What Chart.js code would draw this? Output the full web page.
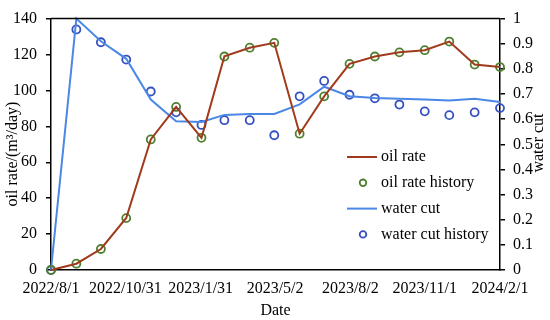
<!DOCTYPE html>
<html>
<head>
<meta charset="utf-8">
<script src="https://cdn.jsdelivr.net/npm/chart.js@4.4.0/dist/chart.umd.min.js"></script>
<style>
    html, body { margin: 0; padding: 0; background: #fff; }
    #wrap { width: 550px; height: 320px; }
</style>
</head>
<body>
<div id="wrap"><canvas id="chart" width="550" height="320"></canvas></div>
<script>
// Data (monthly points)
const dates = ['2022/8/1', '2022/9/1', '2022/10/1', '2022/11/1', '2022/12/1', '2023/1/1', '2023/2/1',
    '2023/3/1', '2023/4/1', '2023/5/1', '2023/6/1', '2023/7/1', '2023/8/1', '2023/9/1', '2023/10/1',
    '2023/11/1', '2023/12/1', '2024/1/1', '2024/2/1'];
const oilRate = [0, 3.5, 11.7, 29, 72.7, 90.8, 73.6, 119, 123.8, 126.5, 75.9, 96.7, 114.8, 118.9, 121.2, 122.4, 127.2, 114.4, 113];
const oilRateHistory = [0, 3.5, 11.7, 28.9, 72.7, 90.8, 73.6, 118.9, 123.8, 126.5, 75.9, 96.7, 114.8, 118.9, 121.2, 122.4, 127.2, 114.4, 113];
const waterCut = [0, 1.0, 0.91, 0.84, 0.678, 0.592, 0.589, 0.617, 0.621, 0.621, 0.659, 0.729, 0.691, 0.684, 0.681, 0.678, 0.674, 0.681, 0.668];
const waterCutHistory = [0, 0.957, 0.906, 0.837, 0.71, 0.627, 0.577, 0.596, 0.596, 0.536, 0.691, 0.752, 0.697, 0.683, 0.658, 0.631, 0.616, 0.627, 0.644];
const xTickLabels = ['2022/8/1', '2022/10/31', '2023/1/31', '2023/5/2', '2023/8/2', '2023/11/1', '2024/2/1'];

const FONT = '"Liberation Serif", "Times New Roman", serif';

// days since the first date
function dayOf(s) {
    const p = s.split('/').map(Number);
    return (Date.UTC(p[0], p[1] - 1, p[2]) - Date.UTC(2022, 7, 1)) / 86400000;
}
const pts = arr => arr.map((v, i) => ({ x: dayOf(dates[i]), y: v }));

// Top border, rotated axis titles, legend
const extras = {
    id: 'extras',
    afterDraw(chart) {
        const { ctx, chartArea: a } = chart;
        ctx.save();
        ctx.strokeStyle = '#000';
        ctx.lineWidth = 1.5;
        ctx.beginPath();
        ctx.moveTo(a.left, a.top);
        ctx.lineTo(a.right, a.top);
        ctx.stroke();

        ctx.fillStyle = '#000';
        ctx.font = '16px ' + FONT;
        ctx.textAlign = 'center';
        ctx.textBaseline = 'middle';
        ctx.save();
        ctx.translate(13, 154);
        ctx.rotate(-Math.PI / 2);
        ctx.fillText('oil rate/(m³/day)', 0, 0);
        ctx.restore();
        ctx.save();
        ctx.translate(539, 143);
        ctx.rotate(-Math.PI / 2);
        ctx.fillText('water cut', 0, 0);
        ctx.restore();

        // legend
        ctx.textAlign = 'left';
        chart.data.datasets.forEach((ds, i) => {
            const y = 157 + i * 25.8;
            ctx.strokeStyle = ds.borderColor;
            ctx.beginPath();
            if (ds.showLine === false) {
                ctx.lineWidth = 1.8;
                ctx.arc(363, y, 3.3, 0, Math.PI * 2);
            } else {
                ctx.lineWidth = 2;
                ctx.moveTo(347, y);
                ctx.lineTo(377, y);
            }
            ctx.stroke();
            ctx.fillStyle = '#000';
            ctx.fillText(ds.label, 381, y);
        });
        ctx.restore();
    }
};

const ctx = document.getElementById('chart').getContext('2d');
new Chart(ctx, {
    type: 'line',
    data: {
        datasets: [
            {
                label: 'oil rate',
                data: pts(oilRate),
                yAxisID: 'y',
                borderColor: '#a03a1c',
                borderWidth: 2,
                pointRadius: 0,
                clip: false
            },
            {
                label: 'oil rate history',
                data: pts(oilRateHistory),
                yAxisID: 'y',
                showLine: false,
                borderColor: '#4f8030',
                backgroundColor: 'rgba(0,0,0,0)',
                pointRadius: 4,
                pointBorderWidth: 1.8,
                clip: false
            },
            {
                label: 'water cut',
                data: pts(waterCut),
                yAxisID: 'y1',
                borderColor: '#4a87e6',
                borderWidth: 2,
                pointRadius: 0,
                clip: false
            },
            {
                label: 'water cut history',
                data: pts(waterCutHistory),
                yAxisID: 'y1',
                showLine: false,
                borderColor: '#3550c0',
                backgroundColor: 'rgba(0,0,0,0)',
                pointRadius: 4,
                pointBorderWidth: 1.8,
                clip: false
            }
        ]
    },
    options: {
        responsive: false,
        animation: false,
        layout: { padding: { top: 7, left: 0, right: 0, bottom: 0 } },
        plugins: {
            legend: { display: false },
            tooltip: { enabled: false }
        },
        scales: {
            x: {
                type: 'linear',
                position: 'bottom',
                min: 0,
                max: dayOf('2024/2/1'),
                afterBuildTicks: scale => {
                    scale.ticks = xTickLabels.map(d => ({ value: dayOf(d) }));
                },
                afterFit: scale => { scale.height = 50; },
                ticks: {
                    color: '#000',
                    font: { family: FONT, size: 16 },
                    padding: 9,
                    maxRotation: 0,
                    autoSkip: false,
                    callback: (v, i) => xTickLabels[i]
                },
                grid: { drawOnChartArea: false, drawTicks: false },
                border: { color: '#000', width: 1.5 },
                title: {
                    display: true,
                    text: 'Date',
                    color: '#000',
                    font: { family: FONT, size: 16 },
                    padding: 0
                }
            },
            y: {
                position: 'left',
                min: 0,
                max: 140,
                afterFit: scale => { scale.width = 51; },
                ticks: {
                    stepSize: 20,
                    color: '#000',
                    font: { family: FONT, size: 16 },
                    padding: 9
                },
                grid: { drawOnChartArea: false, tickLength: 5, color: '#000', lineWidth: 1.5 },
                border: { color: '#000', width: 1.5 }
            },
            y1: {
                position: 'right',
                min: 0,
                max: 1,
                afterFit: scale => { scale.width = 50; },
                ticks: {
                    stepSize: 0.1,
                    color: '#000',
                    font: { family: FONT, size: 16 },
                    padding: 8,
                    callback: v => String(Number(v.toFixed(1)))
                },
                grid: { drawOnChartArea: false, tickLength: 5, color: '#000', lineWidth: 1.5 },
                border: { color: '#000', width: 1.5 }
            }
        }
    },
    plugins: [extras]
});
</script>
</body>
</html>
